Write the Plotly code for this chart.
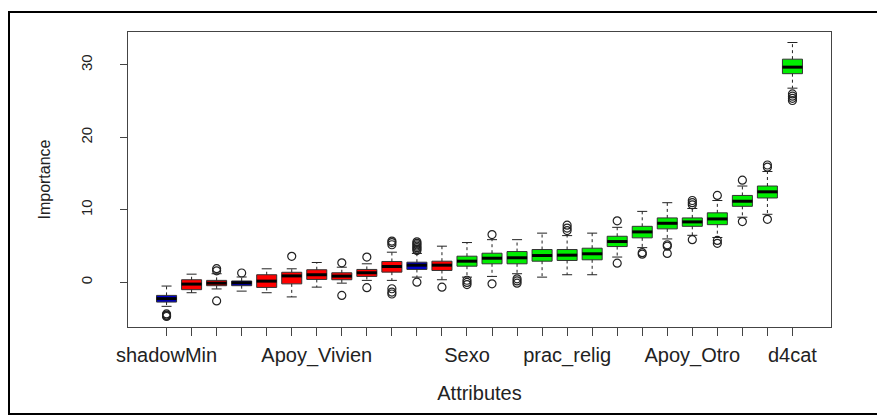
import plotly.graph_objects as go

# ---- data ----
tick_labels = ["shadowMin", "", "", "", "", "", "Apoy_Vivien", "", "", "", "", "", "Sexo",
               "", "", "", "prac_relig", "", "", "", "", "Apoy_Otro", "", "", "", "d4cat"]
status = ["shadow", "rejected", "rejected", "shadow", "rejected", "rejected", "rejected",
          "rejected", "rejected", "rejected", "shadow", "rejected",
          "confirmed", "confirmed", "confirmed", "confirmed", "confirmed", "confirmed",
          "confirmed", "confirmed", "confirmed", "confirmed", "confirmed", "confirmed",
          "confirmed", "confirmed"]
q1 = [-2.71, -1.00, -0.45, -0.45, -0.69, -0.20, 0.41, 0.37, 0.83, 1.42, 1.79, 1.65,
      2.24, 2.57, 2.57, 2.93, 3.03, 3.12, 4.95, 6.15, 7.39, 7.74, 7.97, 10.5, 11.65, 28.8]
median = [-2.24, -0.23, -0.10, -0.05, 0.18, 0.90, 1.06, 0.87, 1.33, 2.20, 2.38, 2.38,
          2.93, 3.34, 3.40, 3.71, 3.76, 3.95, 5.64, 6.97, 8.16, 8.35, 8.76, 11.2, 12.5, 29.7]
q3 = [-1.79, 0.37, 0.28, 0.20, 1.06, 1.40, 1.75, 1.33, 1.79, 2.89, 2.79, 2.93,
      3.62, 4.03, 4.26, 4.54, 4.54, 4.72, 6.37, 7.74, 8.90, 8.90, 9.60, 12.0, 13.3, 30.8]
lower_whisker = [-3.3, -1.42, -0.90, -1.20, -1.42, -2.00, -0.65, -0.10, 0.28, 0.28, 0.73, 0.37,
                 0.73, 0.83, 1.20, 0.73, 1.06, 1.06, 3.50, 4.80, 6.00, 6.50, 6.20, 9.0, 9.4, 26.8]
upper_whisker = [-0.5, 1.14, 1.20, 0.75, 1.88, 1.88, 2.75, 2.10, 2.57, 4.17, 4.00, 5.00,
                 5.50, 5.90, 5.90, 6.80, 6.46, 6.80, 7.60, 9.80, 11.0, 10.2, 11.3, 13.3, 15.3, 33.1]
outliers = [
    [-4.35, -4.5, -4.6, -4.7],
    [],
    [1.6, 1.9, -2.55],
    [1.3],
    [],
    [3.6],
    [],
    [2.7, -1.8],
    [3.5, -0.73],
    [5.2, 5.5, 5.7, -0.87, -1.33, -1.6],
    [4.4, 4.6, 4.8, 5.0, 5.2, 5.4, 5.6, 0.04],
    [-0.65],
    [0.3, 0.0, -0.3],
    [6.6, -0.2],
    [0.5, 0.2, -0.1],
    [],
    [7.15, 7.5, 7.9],
    [],
    [8.5, 2.66],
    [3.9, 4.1],
    [5.2, 5.0, 4.0],
    [10.7, 11.0, 11.3, 5.9],
    [12.0, 5.8, 5.4],
    [14.1, 8.4],
    [15.9, 16.2, 8.7],
    [25.1, 25.4, 25.7, 26.0],
]

colour_of = {"shadow": "#0000CD", "rejected": "#FF0000", "confirmed": "#00EE00"}
box_w = 0.8
cap_w = 0.4

n = len(q1)
pos = list(range(1, n + 1))

fig = go.Figure()

# boxes first (so scatter layers are drawn above them)
for i in range(n):
    fig.add_trace(go.Box(
        x=[pos[i]], q1=[q1[i]], median=[median[i]], q3=[q3[i]],
        lowerfence=[q1[i]], upperfence=[q3[i]],
        fillcolor=colour_of[status[i]], line=dict(color="#333333", width=1),
        width=box_w, whiskerwidth=0, boxpoints=False,
        showlegend=False, hoverinfo="skip"))

# dashed whiskers
wx, wy = [], []
for i in range(n):
    wx += [pos[i], pos[i], None, pos[i], pos[i], None]
    wy += [q3[i], upper_whisker[i], None, q1[i], lower_whisker[i], None]
fig.add_trace(go.Scatter(x=wx, y=wy, mode="lines",
                         line=dict(color="#222222", width=1, dash="3px,3px"),
                         showlegend=False, hoverinfo="skip"))

# caps
cx, cy = [], []
for i in range(n):
    cx += [pos[i] - cap_w / 2, pos[i] + cap_w / 2, None,
           pos[i] - cap_w / 2, pos[i] + cap_w / 2, None]
    cy += [upper_whisker[i], upper_whisker[i], None,
           lower_whisker[i], lower_whisker[i], None]
fig.add_trace(go.Scatter(x=cx, y=cy, mode="lines",
                         line=dict(color="#222222", width=1),
                         showlegend=False, hoverinfo="skip"))

# thick medians
mx, my = [], []
for i in range(n):
    mx += [pos[i] - box_w / 2, pos[i] + box_w / 2, None]
    my += [median[i], median[i], None]
fig.add_trace(go.Scatter(x=mx, y=my, mode="lines",
                         line=dict(color="black", width=3),
                         showlegend=False, hoverinfo="skip"))

# outliers
ox, oy = [], []
for i in range(n):
    for v in outliers[i]:
        ox.append(pos[i])
        oy.append(v)
fig.add_trace(go.Scatter(x=ox, y=oy, mode="markers",
                         marker=dict(symbol="circle-open", size=8,
                                     color="#222222", line=dict(width=1.2)),
                         showlegend=False, hoverinfo="skip"))

# page body has an 8px margin; figure is sized to fit inside the window
OFF = 8
W, H = 877, 407
L, R, T, B = 120, 54, 24, 88
pw, ph = W - L - R, H - T - B


def px_to_paper_x(px):
    return (px - OFF - L) / pw


def px_to_paper_y(py):
    return (H - B - (py - OFF)) / ph


fig.update_layout(
    width=W, height=H,
    margin=dict(l=L, r=R, t=T, b=B, pad=0),
    paper_bgcolor="white", plot_bgcolor="white",
    font=dict(family="Liberation Sans, Arial, sans-serif", size=13, color="#222222"),
    xaxis=dict(range=[-0.54, 27.54], tickmode="array", tickvals=pos, ticktext=tick_labels,
               ticks="outside", ticklen=8, tickcolor="#444444", tickwidth=1,
               showline=True, linecolor="#444444", linewidth=1, mirror=True,
               showgrid=False, zeroline=False, ticklabelstandoff=2, automargin=False,
               tickfont=dict(size=20),
               title=dict(text="Attributes", standoff=19,
                          font=dict(size=20, color="#222222"))),
    yaxis=dict(range=[-6.15, 34.55], tickmode="array", tickvals=[0, 10, 20, 30],
               ticks="outside", ticklen=7, tickcolor="#444444", tickwidth=1,
               tickangle=-90, ticklabelstandoff=22, automargin=False,
               tickfont=dict(size=15),
               showline=True, linecolor="#444444", linewidth=1, mirror=True,
               showgrid=False, zeroline=False,
               title=dict(text="Importance", standoff=23,
                          font=dict(size=16, color="#222222"))),
    shapes=[dict(type="rect", xref="paper", yref="paper",
                 x0=px_to_paper_x(9), x1=px_to_paper_x(879),
                 y0=px_to_paper_y(414), y1=px_to_paper_y(12),
                 line=dict(color="black", width=2), layer="above")],
)

fig.write_html("out.html")
